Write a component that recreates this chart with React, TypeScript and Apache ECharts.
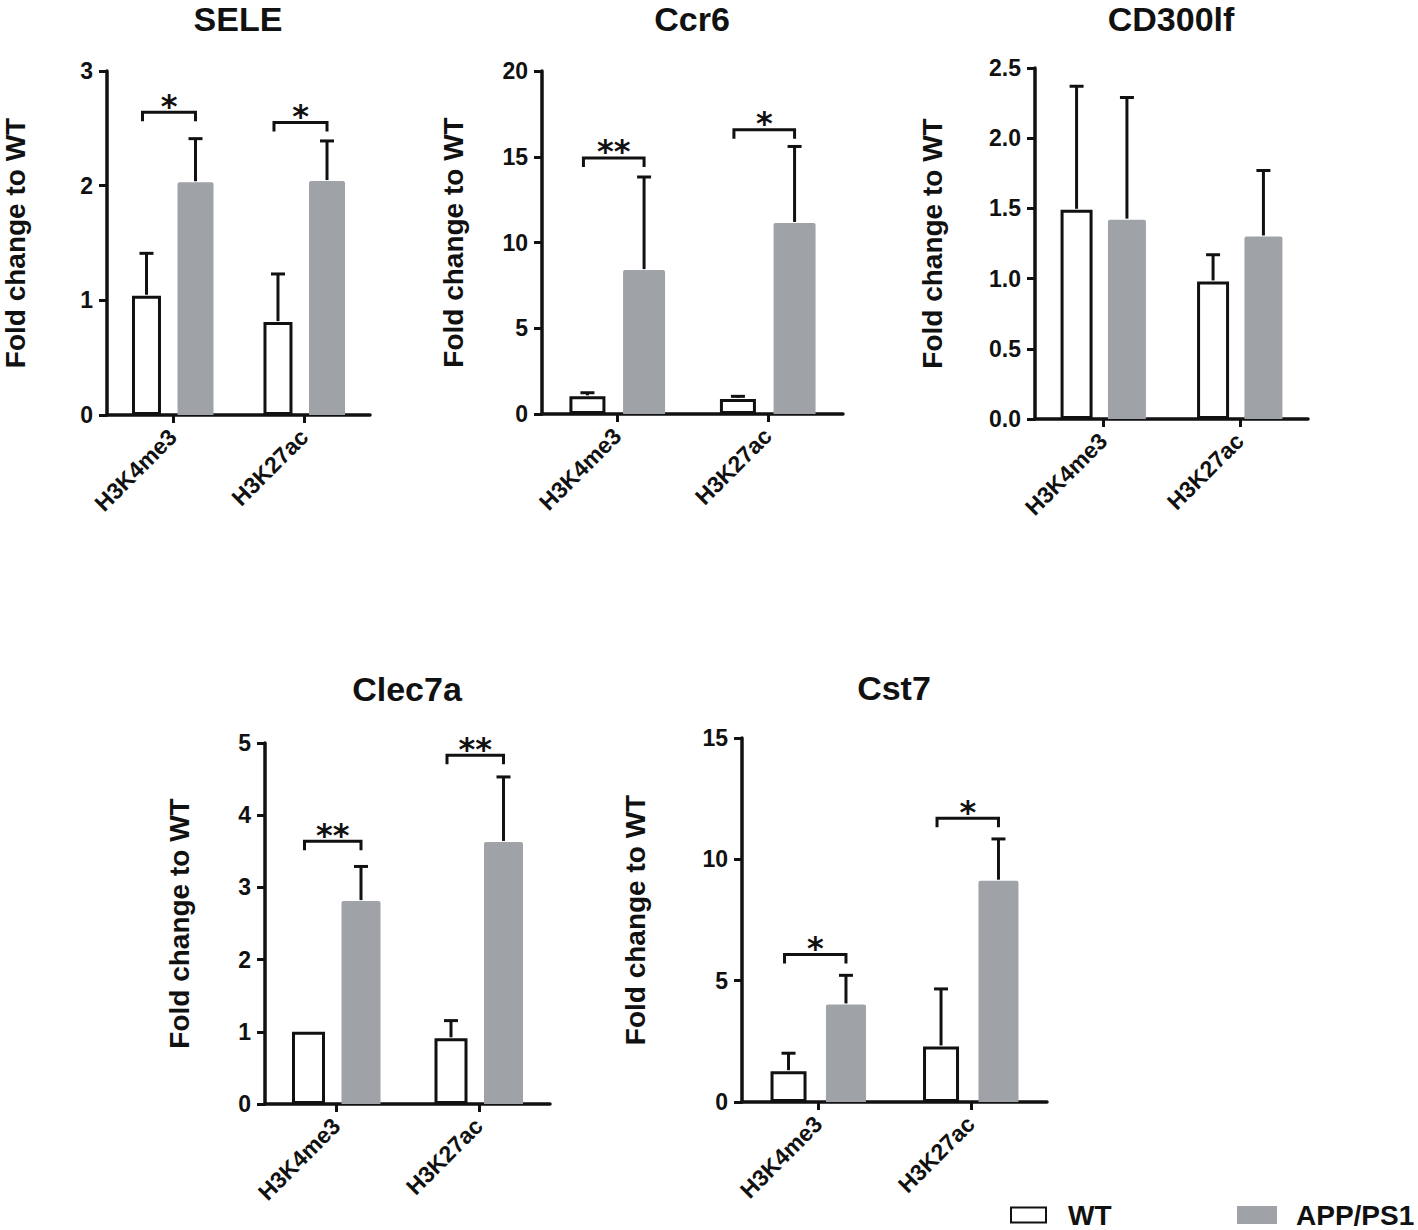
import React, { useEffect, useRef } from 'react';
import * as echarts from 'echarts';

// ---- data ----
const categories = ['H3K4me3', 'H3K27ac'];
const panelTitles = ['SELE', 'Ccr6', 'CD300lf', 'Clec7a', 'Cst7'];
const yMax = [3, 20, 2.5, 5, 15];
const yInterval = [1, 5, 0.5, 1, 5];
const yDecimals = [0, 0, 1, 0, 0];
const wtMean = [[1.04, 0.81], [1.03, 0.88], [1.49, 0.98], [1.0, 0.91], [1.27, 2.29]];
const wtUpper = [[1.41, 1.23], [1.24, 1.03], [2.37, 1.17], [1.0, 1.155], [2.01, 4.66]];
const appMean = [[2.03, 2.04], [8.39, 11.14], [1.42, 1.3], [2.81, 3.63], [4.02, 9.12]];
const appUpper = [[2.41, 2.39], [13.82, 15.6], [2.29, 1.77], [3.29, 4.53], [5.22, 10.84]];
// significance brackets: [categoryIndex, bracket level]
const brackets = [
  [[0, 2.64], [1, 2.55]],
  [[0, 14.93], [1, 16.57]],
  [],
  [[0, 3.64], [1, 4.83]],
  [[0, 6.08], [1, 11.69]],
];
const bracketLabels = [['*', '*'], ['**', '*'], [], ['**', '**'], ['*', '*']];
const seriesNames = ['WT', 'APP/PS1'];
const yAxisTitle = 'Fold change to WT';

// ---- layout / style ----
const FONT = '"Liberation Sans", Arial, Helvetica, sans-serif';
const INK = '#111111';
const GRAY = '#9fa2a6';
const layout = [
  { left: 106, top: 71, width: 264, height: 344, nameGap: 78, wWT: 29, wAPP: 36, gap: 0.57, titleX: 238, titleTop: 2 },
  { left: 542, top: 71, width: 301, height: 343, nameGap: 75, wWT: 36, wAPP: 42, gap: 0.49, titleX: 692, titleTop: 2 },
  { left: 1035, top: 68, width: 273, height: 351, nameGap: 89, wWT: 32, wAPP: 38, gap: 0.48, titleX: 1171, titleTop: 2 },
  { left: 265, top: 743, width: 285, height: 361, nameGap: 72, wWT: 33, wAPP: 39, gap: 0.5, titleX: 407, titleTop: 672 },
  { left: 742, top: 738, width: 305, height: 364, nameGap: 93, wWT: 36, wAPP: 40, gap: 0.54, titleX: 894, titleTop: 671 },
];

function barOffsets(L: any) {
  const widthSum = L.wWT * (1 + L.gap) + L.wAPP;
  const offWT = -widthSum / 2 + L.wWT / 2;
  const offAPP = -widthSum / 2 + L.wWT * (1 + L.gap) + L.wAPP / 2;
  return [offWT, offAPP];
}

function buildOption() {
  const grid: any[] = [];
  const xAxis: any[] = [];
  const yAxis: any[] = [];
  const title: any[] = [];
  const series: any[] = [];

  panelTitles.forEach((t, i) => {
    const L = layout[i];
    const offs = barOffsets(L);
    grid.push({ left: L.left, top: L.top, width: L.width, height: L.height, containLabel: false });
    title.push({
      text: t,
      left: L.titleX,
      top: L.titleTop,
      textAlign: 'center',
      padding: 0,
      textStyle: { fontFamily: FONT, fontWeight: 'bold', fontSize: 34, color: INK },
    });
    xAxis.push({
      type: 'category',
      gridIndex: i,
      data: categories,
      axisLine: { show: true, lineStyle: { color: INK, width: 3.5 } },
      axisTick: { show: true, alignWithLabel: true, length: 8, lineStyle: { color: INK, width: 3 } },
      axisLabel: {
        interval: 0,
        rotate: 45,
        margin: 18,
        color: INK,
        fontFamily: FONT,
        fontWeight: 'bold',
        fontSize: 23,
      },
      splitLine: { show: false },
    });
    const dec = yDecimals[i];
    yAxis.push({
      type: 'value',
      gridIndex: i,
      min: 0,
      max: yMax[i],
      interval: yInterval[i],
      name: yAxisTitle,
      nameLocation: 'middle',
      nameGap: L.nameGap,
      nameTextStyle: { fontFamily: FONT, fontWeight: 'bold', fontSize: 28, color: INK },
      axisLine: { show: true, lineStyle: { color: INK, width: 3.5 } },
      axisTick: { show: true, length: 8, lineStyle: { color: INK, width: 3 } },
      axisLabel: {
        margin: 14,
        color: INK,
        fontFamily: FONT,
        fontWeight: 'bold',
        fontSize: 23,
        formatter: (v: number) => v.toFixed(dec),
      },
      splitLine: { show: false },
    });

    series.push({
      type: 'bar',
      name: seriesNames[0],
      xAxisIndex: i,
      yAxisIndex: i,
      data: wtMean[i],
      barWidth: L.wWT,
      barGap: L.gap * 100 + '%',
      itemStyle: { color: '#ffffff', borderColor: INK, borderWidth: 3 },
      emphasis: { disabled: true },
      z: 2,
    });
    series.push({
      type: 'bar',
      name: seriesNames[1],
      xAxisIndex: i,
      yAxisIndex: i,
      data: appMean[i],
      barWidth: L.wAPP,
      barGap: L.gap * 100 + '%',
      itemStyle: { color: GRAY, borderRadius: [2, 2, 0, 0] },
      emphasis: { disabled: true },
      z: 2,
    });

    const errData: any[] = [];
    categories.forEach((c, j) => {
      errData.push([j, wtMean[i][j], wtUpper[i][j], 0]);
      errData.push([j, appMean[i][j], appUpper[i][j], 1]);
    });
    series.push({
      type: 'custom',
      xAxisIndex: i,
      yAxisIndex: i,
      data: errData,
      encode: { x: 0, y: [1, 2] },
      z: 4,
      silent: true,
      renderItem: (params: any, api: any) => {
        const cat = api.value(0);
        const mean = api.value(1);
        const up = api.value(2);
        const g = api.value(3);
        if (up <= mean) return null;
        const b = api.coord([cat, mean]);
        const tp = api.coord([cat, up]);
        const x = b[0] + offs[g];
        const st = { stroke: INK, lineWidth: 3, fill: null };
        return {
          type: 'group',
          children: [
            { type: 'line', shape: { x1: x, y1: b[1] - 1, x2: x, y2: tp[1] }, style: st },
            { type: 'line', shape: { x1: x - 7, y1: tp[1], x2: x + 7, y2: tp[1] }, style: st },
          ],
        };
      },
    });

    if (brackets[i].length) {
      const labels = bracketLabels[i];
      series.push({
        type: 'custom',
        xAxisIndex: i,
        yAxisIndex: i,
        data: brackets[i],
        encode: { x: 0, y: 1 },
        z: 4,
        silent: true,
        renderItem: (params: any, api: any) => {
          const cat = api.value(0);
          const lv = api.value(1);
          const p = api.coord([cat, lv]);
          const x1 = p[0] + offs[0] - 4;
          const x2 = p[0] + offs[1];
          const y = p[1];
          const label = labels[params.dataIndex];
          return {
            type: 'group',
            children: [
              {
                type: 'polyline',
                shape: { points: [[x1, y + 9], [x1, y], [x2, y], [x2, y + 9]] },
                style: { stroke: INK, lineWidth: 3, fill: null },
              },
              {
                type: 'text',
                style: {
                  text: label,
                  x: (x1 + x2) / 2,
                  y: y - 6.5,
                  align: 'center',
                  textAlign: 'center',
                  verticalAlign: 'middle',
                  textVerticalAlign: 'middle',
                  font: 'bold 32px "DejaVu Sans", sans-serif',
                  fill: INK,
                },
              },
            ],
          };
        },
      });
    }
  });

  const legendText = { fontFamily: FONT, fontWeight: 'bold', fontSize: 28, color: INK };
  const legend = [
    {
      data: [{ name: seriesNames[0], icon: 'rect' }],
      left: 1010,
      top: 1201,
      padding: 0,
      selectedMode: false,
      itemWidth: 35,
      itemHeight: 15,
      textStyle: { ...legendText, padding: [0, 0, 0, 17] },
    },
    {
      data: [{ name: seriesNames[1], icon: 'rect' }],
      left: 1237,
      top: 1201,
      padding: 0,
      selectedMode: false,
      itemWidth: 40,
      itemHeight: 18,
      textStyle: { ...legendText, padding: [0, 0, 0, 14] },
    },
  ];

  return {
    animation: false,
    backgroundColor: '#ffffff',
    title,
    legend,
    grid,
    xAxis,
    yAxis,
    series,
  };
}

export default function App() {
  const ref = useRef<HTMLDivElement>(null);
  useEffect(() => {
    if (!ref.current) return;
    const chart = echarts.init(ref.current, undefined, { renderer: 'svg' });
    chart.setOption(buildOption() as any);
    return () => chart.dispose();
  }, []);
  return (
    <div
      ref={ref}
      style={{ position: 'absolute', left: 0, top: 0, width: 1418, height: 1230, background: '#fff' }}
    />
  );
}
